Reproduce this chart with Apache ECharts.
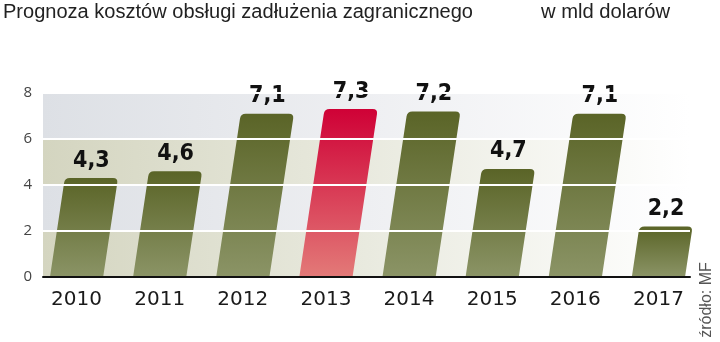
<!DOCTYPE html>
<html>
<head>
<meta charset="utf-8">
<script src="https://cdn.jsdelivr.net/npm/echarts@6/dist/echarts.min.js"></script>
<style>
  html, body { margin: 0; padding: 0; background: #ffffff; }
  #chart { width: 720px; height: 342px; }
</style>
</head>
<body>
<div id="chart"></div>
<script>
// Foreign debt servicing cost forecast, bn USD
const years = ['2010', '2011', '2012', '2013', '2014', '2015', '2016', '2017'];
const costs = [4.3, 4.6, 7.1, 7.3, 7.2, 4.7, 7.1, 2.2];
const highlightYear = '2013';
const yTicks = [0, 2, 4, 6, 8];

const titleText = 'Prognoza kosztów obsługi zadłużenia zagranicznego';
const unitText = 'w mld dolarów';
const sourceText = 'źródło: MF';

const headFont = '20px "Liberation Sans", sans-serif';

// horizontal squeeze so a heading fills a given width
function squeeze(text, font, width) {
  const ctx = document.createElement('canvas').getContext('2d');
  ctx.font = font;
  return width / ctx.measureText(text).width;
}

const G = echarts.graphic;
const olive = new G.LinearGradient(0, 0, 0, 1, [
  { offset: 0, color: '#5a6427' },
  { offset: 1, color: '#8b9466' }
]);
const red = new G.LinearGradient(0, 0, 0, 1, [
  { offset: 0, color: '#cf0136' },
  { offset: 1, color: '#e37a78' }
]);
const bandBeige = new G.LinearGradient(0, 0, 1, 0, [
  { offset: 0, color: '#d4d5c0' },
  { offset: 0.5, color: '#e9eadf' },
  { offset: 1, color: '#ffffff' }
]);
const bandGrey = new G.LinearGradient(0, 0, 1, 0, [
  { offset: 0, color: '#dde0e5' },
  { offset: 0.5, color: '#eeeff2' },
  { offset: 1, color: '#ffffff' }
]);

const fmt = v => v.toFixed(1).replace('.', ',');

// slanted bar with rounded top corners, anchored at its base
function renderBar(params, api) {
  const i = api.value(0);
  const v = api.value(1);
  const base = api.coord([i, 0]);
  const top = api.coord([i, v]);
  const w = api.size([1, 0])[0] * 0.64;
  const h = base[1] - top[1];
  const shift = h * 0.15;
  const r = 5;
  const bl = [base[0] - w / 2, base[1]];
  const br = [base[0] + w / 2, base[1]];
  const tl = [bl[0] + shift, top[1]];
  const tr = [br[0] + shift, top[1]];
  const len = Math.sqrt(shift * shift + h * h) || 1;
  const ux = -shift / len, uy = h / len;
  const p1 = [tl[0] + r * ux, tl[1] + r * uy];
  const p4 = [tr[0] + r * ux, tr[1] + r * uy];
  const d = 'M' + bl[0] + ' ' + bl[1] +
    ' L' + p1[0] + ' ' + p1[1] +
    ' Q' + tl[0] + ' ' + tl[1] + ' ' + (tl[0] + r) + ' ' + tl[1] +
    ' L' + (tr[0] - r) + ' ' + tr[1] +
    ' Q' + tr[0] + ' ' + tr[1] + ' ' + p4[0] + ' ' + p4[1] +
    ' L' + br[0] + ' ' + br[1] + ' Z';
  const isHi = years[i] === highlightYear;
  return {
    type: 'group',
    children: [
      {
        type: 'path',
        shape: { pathData: d },
        style: { fill: isHi ? red : olive }
      },
      {
        type: 'text',
        x: (tl[0] + tr[0]) / 2,
        y: top[1] - 6,
        style: {
          text: fmt(v),
          fill: '#111111',
          font: 'bold 23px "DejaVu Sans Condensed", "DejaVu Sans", sans-serif',
          align: 'center',
          verticalAlign: 'bottom'
        }
      }
    ]
  };
}

const chart = echarts.init(document.getElementById('chart'), null, { renderer: 'canvas' });

chart.setOption({
  animation: false,
  backgroundColor: '#ffffff',
  graphic: [
    {
      type: 'text', x: 3, y: 2, scaleX: squeeze(titleText, headFont, 470),
      style: { text: titleText, fill: '#222222', font: headFont, align: 'left', verticalAlign: 'top' }
    },
    {
      type: 'text', x: 541, y: 2, scaleX: squeeze(unitText, headFont, 129),
      style: { text: unitText, fill: '#222222', font: headFont, align: 'left', verticalAlign: 'top' }
    },
    {
      type: 'text', x: 707, y: 300, rotation: Math.PI / 2,
      style: {
        text: sourceText, fill: '#555555', font: '16px "Liberation Sans", sans-serif',
        align: 'center', verticalAlign: 'middle'
      }
    }
  ],
  grid: [
    { left: 35, right: 20, top: 93, bottom: 65 },
    { left: 43, right: 30, top: 93, bottom: 65 }
  ],
  xAxis: [
    {
      type: 'category', gridIndex: 0, data: years,
      axisLine: { show: false }, axisTick: { show: false },
      axisLabel: { color: '#1a1a1a', fontSize: 20, fontFamily: '"DejaVu Sans", sans-serif', margin: 13 }
    },
    {
      type: 'value', gridIndex: 1, min: 0, max: 1,
      axisLine: { show: true, lineStyle: { color: '#111111', width: 2 } },
      axisTick: { show: false }, axisLabel: { show: false }, splitLine: { show: false },
      z: 4
    }
  ],
  yAxis: [
    {
      type: 'value', gridIndex: 0, min: 0, max: 8, interval: 2, show: false
    },
    {
      type: 'value', gridIndex: 1, min: 0, max: 8, interval: 2,
      axisLine: { show: false }, axisTick: { show: false },
      axisLabel: {
        color: '#444444', fontSize: 15, fontFamily: '"Open Sans", sans-serif', margin: 11,
        customValues: yTicks
      },
      splitLine: { show: false },
      splitArea: { show: true, areaStyle: { color: [bandBeige, bandGrey] } },
      z: 0
    },
    {
      type: 'value', gridIndex: 1, min: 0, max: 8, interval: 2,
      axisLine: { show: false }, axisTick: { show: false }, axisLabel: { show: false },
      splitLine: { show: true, lineStyle: { color: '#ffffff', width: 2 } },
      z: 3
    }
  ],
  series: [
    {
      type: 'custom',
      xAxisIndex: 0, yAxisIndex: 0,
      renderItem: renderBar,
      data: costs.map((v, i) => [i, v]),
      z: 2
    }
  ]
});
</script>
</body>
</html>
